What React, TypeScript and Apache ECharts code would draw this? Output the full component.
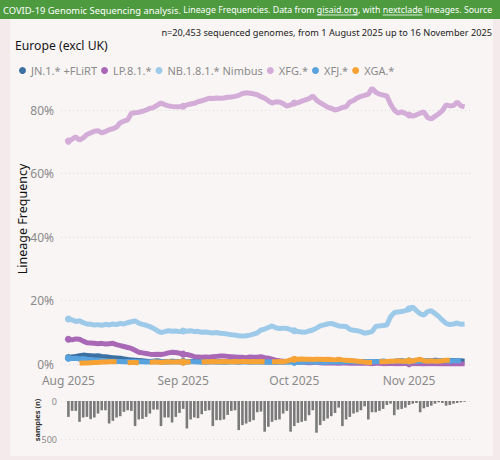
import React, { useEffect, useRef } from "react";
import * as echarts from "echarts";

// Daily values, 1 August 2025 .. 16 November 2025 (108 days)
const START = "2025-08-01";
const NUM_DAYS = 108;

const JN1 = [2.0,2.2,2.4,2.6,2.8,2.7,2.6,2.5,2.6,2.4,2.3,2.1,2.0,1.9,1.8,1.6,1.4,1.3,1.2,1.1,1.0,
  0.9,0.8,0.9,1.0,0.8,0.7,0.8,0.9,0.8,0.7,0.8,0.7,0.8,0.9,0.8,0.7,0.6,0.7,0.8,0.7,
  0.7,0.6,0.7,0.8,0.7,0.6,0.7,0.7,0.6,0.7,0.8,0.7,0.6,0.7,0.6,0.7,0.7,0.6,0.7,0.8,
  0.7,0.6,0.7,0.8,0.9,0.8,0.7,0.6,0.7,0.6,0.7,0.8,0.7,0.6,0.7,0.8,0.9,0.8,0.7,0.8,
  0.7,0.6,0.7,0.8,0.9,0.8,0.7,0.8,0.9,1.0,0.9,0.8,0.9,1.0,1.1,1.0,0.9,1.0,1.2,1.1,
  1.0,0.9,1.0,1.1,1.0,1.0,0.9];
const LP81 = [7.8,7.6,7.9,7.8,7.2,6.7,6.6,6.5,6.4,6.5,6.3,6.4,6.5,6.1,5.8,5.5,5.2,4.9,4.3,3.7,
  3.5,3.3,3.1,3.0,3.1,3.0,3.2,3.5,3.7,3.6,3.4,3.1,3.0,2.7,2.3,2.2,2.1,2.2,2.1,2.3,
  2.4,2.5,2.5,2.4,2.3,2.2,2.1,2.1,2.0,2.2,2.1,2.1,2.3,2.0,1.8,1.5,1.2,1.0,0.9,0.8,
  0.8,0.7,0.6,0.6,0.5,0.4,0.5,0.6,0.4,0.3,0.4,0.3,0.3,0.2,0.3,0.3,0.2,0.2,0.3,0.2,
  0.2,0.2,0.1,0.2,0.2,0.1,0.1,0.2,0.1,0.1,0.1,0.2,0.1,0.1,0.1,0.1,0.0,0.1,0.1,0.1,
  0.0,0.1,0.0,0.0,0.1,0.0,0.0,0.0];
const NB181 = [14.2,13.9,13.4,13.6,13.0,12.6,12.5,12.3,12.4,12.2,12.5,12.3,12.6,12.4,12.8,12.6,13.0,13.3,13.6,12.9,
  12.5,12.2,11.8,11.2,10.5,9.9,10.2,10.5,10.3,10.4,10.2,10.4,10.3,10.5,10.2,10.3,10.0,10.1,9.9,9.8,
  9.9,9.7,9.6,9.4,9.2,9.1,8.9,8.8,8.9,9.1,9.4,9.8,10.7,11.0,11.5,12.0,11.4,11.2,11.3,11.2,
  10.8,10.5,10.2,10.1,10.0,10.4,10.7,11.3,12.0,12.3,12.6,12.8,12.4,12.0,11.9,11.8,10.9,10.6,10.5,10.2,
  9.7,9.9,10.2,11.8,12.0,12.1,12.3,14.9,16.2,16.4,16.5,16.8,17.4,17.9,16.8,15.8,15.4,16.5,16.8,15.9,
  15.0,13.8,12.8,12.4,12.6,12.9,12.5,12.6];
const XFG = [70.2,70.8,71.5,70.5,71.2,72.3,72.8,73.3,73.5,72.8,73.2,73.8,74.1,74.6,76.0,76.5,76.9,79.0,79.1,79.3,
  79.6,80.0,80.5,80.8,81.5,82.2,81.7,81.3,81.1,81.0,81.0,81.2,81.6,81.9,82.1,82.6,82.9,83.3,83.7,83.6,
  83.8,83.7,83.8,84.0,84.1,84.3,84.6,85.2,85.4,85.3,85.1,84.8,84.2,83.7,82.9,82.2,82.6,82.5,82.0,81.2,
  81.6,82.2,82.3,82.8,83.2,83.6,84.4,83.1,82.3,81.6,80.9,80.5,80.0,80.3,80.8,81.0,82.5,83.0,83.8,84.3,
  84.6,85.0,86.9,85.6,85.0,84.7,84.4,81.9,80.0,79.0,79.4,78.9,78.4,78.1,78.5,79.0,79.4,77.6,77.2,78.0,
  78.8,79.8,81.6,81.3,81.4,82.5,81.3,81.0];
const XFJ = [1.8,1.7,1.8,1.6,1.7,1.5,1.4,1.3,1.2,1.1,1.0,0.9,0.9,0.8,0.8,0.7,0.8,0.7,0.8,0.7,
  0.7,0.6,0.7,0.8,0.7,0.7,0.6,0.7,0.6,0.7,0.8,0.7,0.6,0.7,0.7,0.6,0.6,0.7,0.8,0.7,
  0.6,0.7,0.6,0.6,0.7,0.7,0.6,0.7,0.8,0.7,0.6,0.6,0.7,0.6,0.7,0.6,0.5,0.6,0.6,0.7,
  0.6,0.6,0.5,0.6,0.7,0.6,0.6,0.7,0.6,0.5,0.6,0.6,0.7,0.6,0.6,0.7,0.8,0.7,0.6,0.7,
  0.7,0.8,0.7,0.7,0.8,0.9,0.8,0.8,0.9,1.0,0.9,0.8,0.9,1.0,0.9,0.9,1.0,1.1,1.0,0.9,
  1.0,1.1,1.0,0.9,1.0,1.0,1.0,null];
const XGA = [null,null,null,0.2,0.3,0.3,0.4,0.5,0.5,0.6,0.6,0.7,0.7,0.7,null,null,0.4,0.5,0.5,0.4,
  null,null,0.5,0.6,0.6,0.5,0.6,0.7,0.6,0.6,0.7,0.6,0.6,0.7,null,null,0.6,0.7,0.7,0.8,
  0.7,0.7,0.8,0.7,0.7,0.8,0.7,0.8,0.8,0.7,0.8,0.7,0.8,0.7,null,0.7,0.7,0.8,0.7,0.9,
  1.3,1.5,1.5,1.6,1.5,1.5,1.4,1.5,1.5,1.4,1.5,1.4,1.3,1.5,1.3,1.2,1.1,1.0,0.9,0.8,
  0.6,0.5,0.5,null,0.8,0.7,0.8,0.9,0.9,1.0,0.9,0.9,1.0,0.9,1.3,1.5,1.0,0.9,1.0,0.9,
  0.9,1.0,1.2,1.2,null,null,null,null];
const SAMPLES = [209,130,130,274,217,209,239,217,165,122,
  122,296,261,217,200,143,122,130,330,243,
  235,209,165,113,113,330,217,217,283,209,
  157,104,361,243,217,226,174,130,122,330,
  252,252,243,183,130,122,383,317,296,274,
  252,148,139,404,339,274,252,243,165,130,
  404,330,287,274,261,187,122,417,317,261,
  230,200,157,87,330,243,209,165,148,122,
  70,243,148,148,130,104,52,35,187,113,
  104,87,52,35,26,148,96,78,61,35,
  17,26,61,52,35,26,17,9];

const SERIES_NAMES = ["JN.1.* +FLiRT", "LP.8.1.*", "NB.1.8.1.* Nimbus", "XFG.*", "XFJ.*", "XGA.*"];
const SERIES_VALUES = [JN1, LP81, NB181, XFG, XFJ, XGA];
const SERIES_COLORS = ["#3c70a2", "#a968b6", "#9ecaea", "#d4acd8", "#58a3de", "#f6a235"];
const MONTHS = ["Jan","Feb","Mar","Apr","May","Jun","Jul","Aug","Sep","Oct","Nov","Dec"];
const Y_TICKS_PCT = [0, 20, 40, 60, 80];

const HEADER_A = "COVID-19 Genomic Sequencing analysis. ";
const HEADER_B1 = "Lineage Frequencies. Data from ";
const HEADER_LINK1 = "gisaid.org";
const HEADER_B2 = ", with ";
const HEADER_LINK2 = "nextclade";
const HEADER_B3 = " lineages. Source";

const FONT = "'Noto Sans', 'Open Sans', sans-serif";
const FONT_A = 9.4;
const FONT_B = 8.8;

function iso(d: Date) {
  return d.toISOString().slice(0, 10);
}
function dayList(startIso: string, offsetStart: number, count: number) {
  const out: string[] = [];
  const base = new Date(startIso + "T00:00:00Z");
  for (let i = 0; i < count; i++) {
    const d = new Date(base.getTime() + (offsetStart + i) * 86400000);
    out.push(iso(d));
  }
  return out;
}

const DATES = dayList(START, 0, NUM_DAYS);
// axis categories: 2 days padding each side
const AXIS_DATES = dayList(START, -2, NUM_DAYS + 4);

function measure(text: string, size: number) {
  const c = document.createElement("canvas").getContext("2d");
  if (!c) return text.length * size * 0.55;
  c.font = `${size}px ${FONT}`;
  return c.measureText(text).width;
}

export default function App() {
  const ref = useRef<HTMLDivElement>(null);
  useEffect(() => {
    if (!ref.current) return;
    const chart = echarts.init(ref.current, null, { renderer: "svg" });
    const gridLeft = 61;
    const gridRight = 28;
    const hx = 3;
    const wA = measure(HEADER_A, FONT_A);
    const l1x = hx + wA + measure(HEADER_B1, FONT_B);
    const l1w = measure(HEADER_LINK1, FONT_B);
    const l2x = l1x + l1w + measure(HEADER_B2, FONT_B);
    const l2w = measure(HEADER_LINK2, FONT_B);
    const lineSeries = SERIES_NAMES.map((name, k) => ({
      name,
      type: "line",
      xAxisIndex: 0,
      yAxisIndex: 0,
      data: DATES.map((d, i) => [d, SERIES_VALUES[k][i]]),
      connectNulls: false,
      symbol: "circle",
      symbolSize: 7,
      showSymbol: true,
      lineStyle: { width: 5, color: SERIES_COLORS[k] },
      itemStyle: { color: SERIES_COLORS[k] },
      z: 2 + k,
    }));
    const option: any = {
      animation: false,
      backgroundColor: "#f4eaec",
      textStyle: { fontFamily: FONT },
      graphic: [
        { type: "rect", z: -10, shape: { x: 10, y: 19, width: 483, height: 437 }, style: { fill: "#f9f5f5" } },
        { type: "rect", z: -5, shape: { x: 0, y: 0, width: 500, height: 19 }, style: { fill: "#4d9a3f" } },
        {
          type: "text", x: hx, y: 10, z: 10,
          style: {
            text: "{a|" + HEADER_A + "}{b|" + HEADER_B1 + HEADER_LINK1 + HEADER_B2 + HEADER_LINK2 + HEADER_B3 + "}",
            verticalAlign: "middle",
            fill: "#ffffff",
            rich: {
              a: { fontSize: FONT_A, fill: "#ffffff", fontFamily: FONT },
              b: { fontSize: FONT_B, fill: "#ffffff", fontFamily: FONT },
            },
          },
        },
        { type: "line", z: 10, shape: { x1: l1x, y1: 15, x2: l1x + l1w, y2: 15 }, style: { stroke: "#ffffff", lineWidth: 0.8 } },
        { type: "line", z: 10, shape: { x1: l2x, y1: 15, x2: l2x + l2w, y2: 15 }, style: { stroke: "#ffffff", lineWidth: 0.8 } },
        { type: "text", x: 15, y: 45, z: 10, style: { text: "Europe (excl UK)", fontSize: 12.2, fill: "#151515", verticalAlign: "middle", fontFamily: FONT } },
        { type: "text", x: 492, y: 32, z: 10, style: { text: "n=20,453 sequenced genomes, from 1 August 2025 up to 16 November 2025", fontSize: 9.2, fill: "#222222", align: "right", verticalAlign: "middle", fontFamily: FONT } },
        { type: "text", x: 22, y: 219, rotation: Math.PI / 2, z: 10, style: { text: "Lineage Frequency", fontSize: 12.5, fill: "#111111", align: "center", verticalAlign: "middle", fontFamily: FONT } },
        { type: "text", x: 37, y: 420, rotation: Math.PI / 2, z: 10, style: { text: "samples (n)", fontSize: 7.5, fontWeight: "bold", fill: "#333333", align: "center", verticalAlign: "middle", fontFamily: FONT } },
      ],
      legend: {
        data: SERIES_NAMES,
        left: 14,
        top: 60,
        icon: "circle",
        itemWidth: 7,
        itemHeight: 7,
        itemGap: 4,
        textStyle: { fontSize: 11, color: "#8a8a8a", fontFamily: FONT },
      },
      grid: [
        { left: gridLeft, right: gridRight, top: 78.25, bottom: 96 },
        { left: gridLeft, right: gridRight, top: 401, bottom: 21 },
      ],
      xAxis: [
        {
          type: "category",
          gridIndex: 0,
          data: AXIS_DATES,
          boundaryGap: false,
          axisLine: { show: false },
          axisTick: { show: false },
          splitLine: { show: false },
          axisLabel: {
            interval: (idx: number, val: string) => val.endsWith("-01"),
            formatter: (val: string) => MONTHS[parseInt(val.slice(5, 7), 10) - 1] + " " + val.slice(0, 4),
            color: "#8a8a8a",
            fontSize: 12,
            lineHeight: 12,
            margin: 10,
            fontFamily: FONT,
          },
        },
        {
          type: "category",
          gridIndex: 1,
          data: AXIS_DATES,
          boundaryGap: false,
          axisLine: { show: false },
          axisTick: { show: false },
          axisLabel: { show: false },
          splitLine: { show: false },
        },
      ],
      yAxis: [
        {
          type: "value",
          gridIndex: 0,
          min: 0,
          max: 90,
          interval: 20,
          axisLine: { show: false },
          axisTick: { show: false },
          axisLabel: {
            formatter: (v: number) => (Y_TICKS_PCT.includes(v) ? v + "%" : ""),
            color: "#8a8a8a",
            fontSize: 12,
            lineHeight: 12,
            margin: 7,
            fontFamily: FONT,
          },
          splitLine: { show: true, showMaxLine: false, lineStyle: { color: "#dcdcdc", type: [1, 3], width: 1 } },
        },
        {
          type: "value",
          gridIndex: 1,
          min: 0,
          max: 500,
          interval: 500,
          inverse: true,
          axisLine: { show: false },
          axisTick: { show: false },
          axisLabel: { color: "#8a8a8a", fontSize: 9, margin: 4, fontFamily: FONT },
          splitLine: { show: true, lineStyle: { color: "#dcdcdc", type: [1, 3], width: 1 } },
        },
      ],
      series: [
        ...lineSeries,
        {
          name: "samples",
          type: "bar",
          xAxisIndex: 1,
          yAxisIndex: 1,
          data: DATES.map((d, i) => [d, SAMPLES[i]]),
          barWidth: 2.6,
          itemStyle: { color: "#7a7a7a" },
        },
      ],
    };
    chart.setOption(option);
    return () => chart.dispose();
  }, []);
  return (
    <div
      ref={ref}
      style={{ position: "fixed", left: 0, top: 0, width: 500, height: 460 }}
    />
  );
}
